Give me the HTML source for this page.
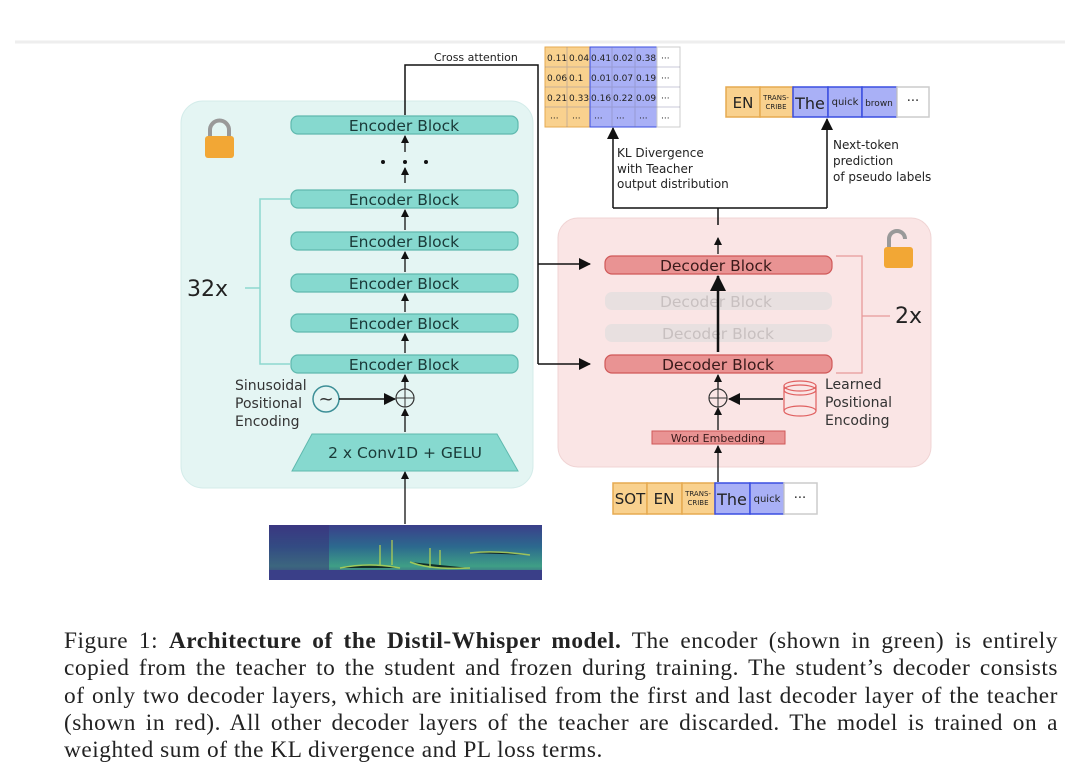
<!DOCTYPE html>
<html><head><meta charset="utf-8"><style>
body{margin:0;background:#fff;width:1080px;height:777px;overflow:hidden;position:relative}
svg{position:absolute;left:0;top:0}
.cap{position:absolute;left:64px;top:628px;width:994px;font-family:"Liberation Serif",serif;font-size:23.3px;letter-spacing:0.55px;line-height:27.3px;color:#222}
.cap div{text-align:justify;text-align-last:justify;white-space:nowrap}
.cap div.l{text-align-last:left}
</style></head><body>
<svg width="1080" height="777" font-family="DejaVu Sans, Liberation Sans, sans-serif">
<defs>
<marker id="a" markerWidth="8" markerHeight="8" refX="7" refY="4" orient="auto" markerUnits="userSpaceOnUse"><path d="M0,0L8,4L0,8z" fill="#111"/></marker>
<marker id="b" markerWidth="16" markerHeight="16" refX="15" refY="8" orient="auto" markerUnits="userSpaceOnUse"><path d="M0,0L16,8L0,16z" fill="#111"/></marker>
<marker id="s" markerWidth="12" markerHeight="12" refX="11" refY="6" orient="auto" markerUnits="userSpaceOnUse"><path d="M0,0L12,6L0,12z" fill="#111"/></marker>
<linearGradient id="spec" x1="0" x2="0" y1="0" y2="1"><stop offset="0" stop-color="#3b3f8a"/><stop offset=".4" stop-color="#2c6a8e"/><stop offset=".75" stop-color="#3f9f86"/><stop offset="1" stop-color="#3a3f88"/></linearGradient>
</defs>
<line x1="15" y1="42" x2="1065" y2="42" stroke="#eee" stroke-width="3"/>
<rect x="181" y="101" width="352" height="387" rx="22" fill="#e4f5f3" stroke="#d4ecea"/>
<rect x="205" y="136" width="29" height="22" rx="3" fill="#f2a735"/>
<path d="M210,136v-6a9,9 0 0 1 19,0v6" fill="none" stroke="#999" stroke-width="4"/>
<g fill="#86d9cf" stroke="#5fb9ae" stroke-width="1.2">
<rect x="291" y="116" width="227" height="18" rx="7"/>
<rect x="291" y="190" width="227" height="18" rx="7"/>
<rect x="291" y="232" width="227" height="18" rx="7"/>
<rect x="291" y="274" width="227" height="18" rx="7"/>
<rect x="291" y="314" width="227" height="18" rx="7"/>
<rect x="291" y="355" width="227" height="18" rx="7"/>
</g>
<g font-size="15.5" fill="#1a3a38" text-anchor="middle">
<text x="404" y="131">Encoder Block</text><text x="404" y="205">Encoder Block</text><text x="404" y="247">Encoder Block</text><text x="404" y="289">Encoder Block</text><text x="404" y="329">Encoder Block</text><text x="404" y="370">Encoder Block</text>
</g>
<g fill="#111"><circle cx="383" cy="162" r="2"/><circle cx="405" cy="162" r="2"/><circle cx="426" cy="162" r="2"/></g>
<g stroke="#111" stroke-width="1.3" marker-end="url(#a)">
<line x1="405" y1="152" x2="405" y2="136"/><line x1="405" y1="183" x2="405" y2="168"/>
<line x1="405" y1="230" x2="405" y2="210"/><line x1="405" y1="272" x2="405" y2="252"/>
<line x1="405" y1="312" x2="405" y2="294"/><line x1="405" y1="353" x2="405" y2="334"/>
<line x1="405" y1="389" x2="405" y2="375"/><line x1="405" y1="432" x2="405" y2="409"/>
<line x1="405" y1="524" x2="405" y2="472"/>
</g>
<path d="M290,199H260V364H290M260,288H245" fill="none" stroke="#8dd8cf" stroke-width="1.5"/>
<text x="187" y="296" font-size="22" fill="#222">32x</text>
<circle cx="405" cy="398" r="9" fill="none" stroke="#333" stroke-width="1.2"/><path d="M396,398h18M405,389v18" stroke="#333"/>
<circle cx="326" cy="399" r="13" fill="none" stroke="#3d8f97" stroke-width="1.5"/>
<text x="326" y="405" font-size="18" text-anchor="middle" fill="#333">~</text>
<line x1="339" y1="399" x2="395" y2="399" stroke="#111" stroke-width="1.5" marker-end="url(#s)"/>
<g font-size="14" fill="#333"><text x="235" y="390">Sinusoidal</text><text x="235" y="408">Positional</text><text x="235" y="426">Encoding</text></g>
<path d="M312,434H497L518,471H292z" fill="#86d9cf" stroke="#5fb9ae"/>
<text x="405" y="458" font-size="15.5" text-anchor="middle" fill="#1a3a38">2 x Conv1D + GELU</text>
<rect x="269" y="525" width="273" height="55" fill="url(#spec)"/>
<rect x="269" y="525" width="60" height="45" fill="#3a2e78" opacity=".5"/>
<rect x="269" y="570" width="273" height="10" fill="#3a3f88"/>
<g stroke="#c9df4a" stroke-width="1.5" opacity=".7"><path d="M340,568q30,-6 60,0"/><path d="M410,562q20,8 60,6"/><path d="M470,553q25,-3 60,2"/><path d="M380,545v20M392,540v25M430,548v20M440,550v15"/></g>
<rect x="558" y="218" width="373" height="249" rx="20" fill="#fae5e5" stroke="#f0d4d4"/>
<path d="M405,115V65H538V364" fill="none" stroke="#111" stroke-width="1.5"/>
<text x="434" y="61" font-size="11" fill="#222">Cross attention</text>
<line x1="538" y1="264" x2="590" y2="264" stroke="#111" stroke-width="1.5" marker-end="url(#s)"/>
<line x1="538" y1="364" x2="590" y2="364" stroke="#111" stroke-width="1.5" marker-end="url(#s)"/>
<rect x="884" y="247" width="29" height="21" rx="3" fill="#f2a735"/>
<path d="M889,247v-8a8,8 0 0 1 16,0" fill="none" stroke="#999" stroke-width="4"/>
<rect x="605" y="292" width="227" height="18" rx="7" fill="#e8e0e0"/>
<rect x="605" y="324" width="227" height="18" rx="7" fill="#e8e0e0"/>
<text x="716" y="307" font-size="15.5" text-anchor="middle" fill="#c8c0c0">Decoder Block</text>
<text x="718" y="339" font-size="15.5" text-anchor="middle" fill="#c8c0c0">Decoder Block</text>
<rect x="605" y="256" width="227" height="18" rx="7" fill="#e99393" stroke="#d05858" stroke-width="1.2"/>
<rect x="605" y="355" width="227" height="18" rx="7" fill="#e99393" stroke="#d05858" stroke-width="1.2"/>
<text x="716" y="271" font-size="15.5" text-anchor="middle" fill="#3a1a1a">Decoder Block</text>
<text x="718" y="370" font-size="15.5" text-anchor="middle" fill="#3a1a1a">Decoder Block</text>
<line x1="718" y1="352" x2="718" y2="276" stroke="#111" stroke-width="2.5" marker-end="url(#b)"/>
<path d="M836,256H862V373H836M862,316H890" fill="none" stroke="#e89a9a" stroke-width="1.3"/>
<text x="895" y="323" font-size="22" fill="#222">2x</text>
<g stroke="#111" stroke-width="1.3" marker-end="url(#a)">
<line x1="718" y1="254" x2="718" y2="238"/><line x1="718" y1="389" x2="718" y2="375"/>
<line x1="718" y1="430" x2="718" y2="408"/><line x1="718" y1="482" x2="718" y2="446"/>
</g>
<circle cx="718" cy="398" r="9" fill="none" stroke="#333" stroke-width="1.2"/><path d="M709,398h18M718,389v18" stroke="#333"/>
<line x1="783" y1="399" x2="729" y2="399" stroke="#111" stroke-width="1.5" marker-end="url(#s)"/>
<g fill="none" stroke="#e06060" stroke-width="1.2"><ellipse cx="800" cy="386" rx="16" ry="5"/><ellipse cx="800" cy="390" rx="16" ry="5"/><path d="M784,386v25M816,386v25"/><ellipse cx="800" cy="411" rx="16" ry="5"/></g>
<g font-size="14" fill="#333"><text x="825" y="389">Learned</text><text x="825" y="407">Positional</text><text x="825" y="425">Encoding</text></g>
<rect x="652" y="431" width="133" height="13" fill="#e99393" stroke="#d05858"/>
<text x="718" y="442" font-size="11" text-anchor="middle" fill="#3a1a1a">Word Embedding</text>
<path d="M718,225V208M613,208H827" fill="none" stroke="#111" stroke-width="1.5"/>
<line x1="613" y1="208" x2="613" y2="128" stroke="#111" stroke-width="1.5" marker-end="url(#s)"/>
<line x1="827" y1="208" x2="827" y2="119" stroke="#111" stroke-width="1.5" marker-end="url(#s)"/>
<g font-size="12" fill="#222"><text x="617" y="157">KL Divergence</text><text x="617" y="173">with Teacher</text><text x="617" y="188">output distribution</text>
<text x="833" y="149">Next-token</text><text x="833" y="165">prediction</text><text x="833" y="181">of pseudo labels</text></g>
<g stroke-width="1">
<rect x="545" y="47" width="45" height="80" fill="#f9d18e" stroke="#e6aa50"/>
<rect x="590" y="47" width="67" height="80" fill="#a9b0f6" stroke="#3a4ee0"/>
<rect x="657" y="47" width="23" height="80" fill="#fff" stroke="#ccc"/>
<path d="M545,67H680M545,87H680M545,107H680M567,47V127M612,47V127M635,47V127" stroke="#7a7aa0" stroke-opacity=".4"/>
</g>
<g font-size="9" fill="#222">
<text x="547" y="61">0.11</text><text x="569" y="61">0.04</text><text x="591" y="61">0.41</text><text x="613" y="61">0.02</text><text x="636" y="61">0.38</text><text x="661" y="61">···</text>
<text x="547" y="81">0.06</text><text x="569" y="81">0.1</text><text x="591" y="81">0.01</text><text x="613" y="81">0.07</text><text x="636" y="81">0.19</text><text x="661" y="81">···</text>
<text x="547" y="101">0.21</text><text x="569" y="101">0.33</text><text x="591" y="101">0.16</text><text x="613" y="101">0.22</text><text x="636" y="101">0.09</text><text x="661" y="101">···</text>
<text x="550" y="121">···</text><text x="572" y="121">···</text><text x="594" y="121">···</text><text x="616" y="121">···</text><text x="639" y="121">···</text><text x="661" y="121">···</text>
</g>
<g stroke-width="1.5">
<rect x="726" y="87" width="34" height="30" fill="#f9d18e" stroke="#e6aa50"/><rect x="760" y="87" width="33" height="30" fill="#f9d18e" stroke="#e6aa50"/>
<rect x="793" y="87" width="35" height="30" fill="#a9b0f6" stroke="#3a4ee0"/><rect x="828" y="87" width="34" height="30" fill="#a9b0f6" stroke="#3a4ee0"/><rect x="862" y="87" width="35" height="30" fill="#a9b0f6" stroke="#3a4ee0"/>
<rect x="897" y="87" width="32" height="30" fill="#fff" stroke="#ccc"/>
</g>
<g fill="#222" text-anchor="middle"><text x="743" y="108" font-size="15">EN</text><text x="776" y="100" font-size="7">TRANS-</text><text x="776" y="109" font-size="7">CRIBE</text>
<text x="810" y="109" font-size="16">The</text><text x="845" y="105" font-size="10">quick</text><text x="879" y="106" font-size="9">brown</text><text x="913" y="105" font-size="13">···</text></g>
<g stroke-width="1.5">
<rect x="613" y="483" width="34" height="31" fill="#f9d18e" stroke="#e6aa50"/><rect x="647" y="483" width="35" height="31" fill="#f9d18e" stroke="#e6aa50"/><rect x="682" y="483" width="33" height="31" fill="#f9d18e" stroke="#e6aa50"/>
<rect x="715" y="483" width="35" height="31" fill="#a9b0f6" stroke="#3a4ee0"/><rect x="750" y="483" width="34" height="31" fill="#a9b0f6" stroke="#3a4ee0"/>
<rect x="784" y="483" width="33" height="31" fill="#fff" stroke="#ccc"/>
</g>
<g fill="#222" text-anchor="middle"><text x="630" y="504" font-size="15">SOT</text><text x="664" y="504" font-size="15">EN</text><text x="698" y="496" font-size="7">TRANS-</text><text x="698" y="505" font-size="7">CRIBE</text>
<text x="732" y="505" font-size="16">The</text><text x="767" y="502" font-size="10">quick</text><text x="800" y="502" font-size="13">···</text></g>
</svg>
<div class="cap">
<div>Figure 1: <b>Architecture of the Distil-Whisper model.</b> The encoder (shown in green) is entirely</div>
<div>copied from the teacher to the student and frozen during training. The student’s decoder consists</div>
<div>of only two decoder layers, which are initialised from the first and last decoder layer of the teacher</div>
<div>(shown in red). All other decoder layers of the teacher are discarded. The model is trained on a</div>
<div class="l">weighted sum of the KL divergence and PL loss terms.</div>
</div>
</body></html>
